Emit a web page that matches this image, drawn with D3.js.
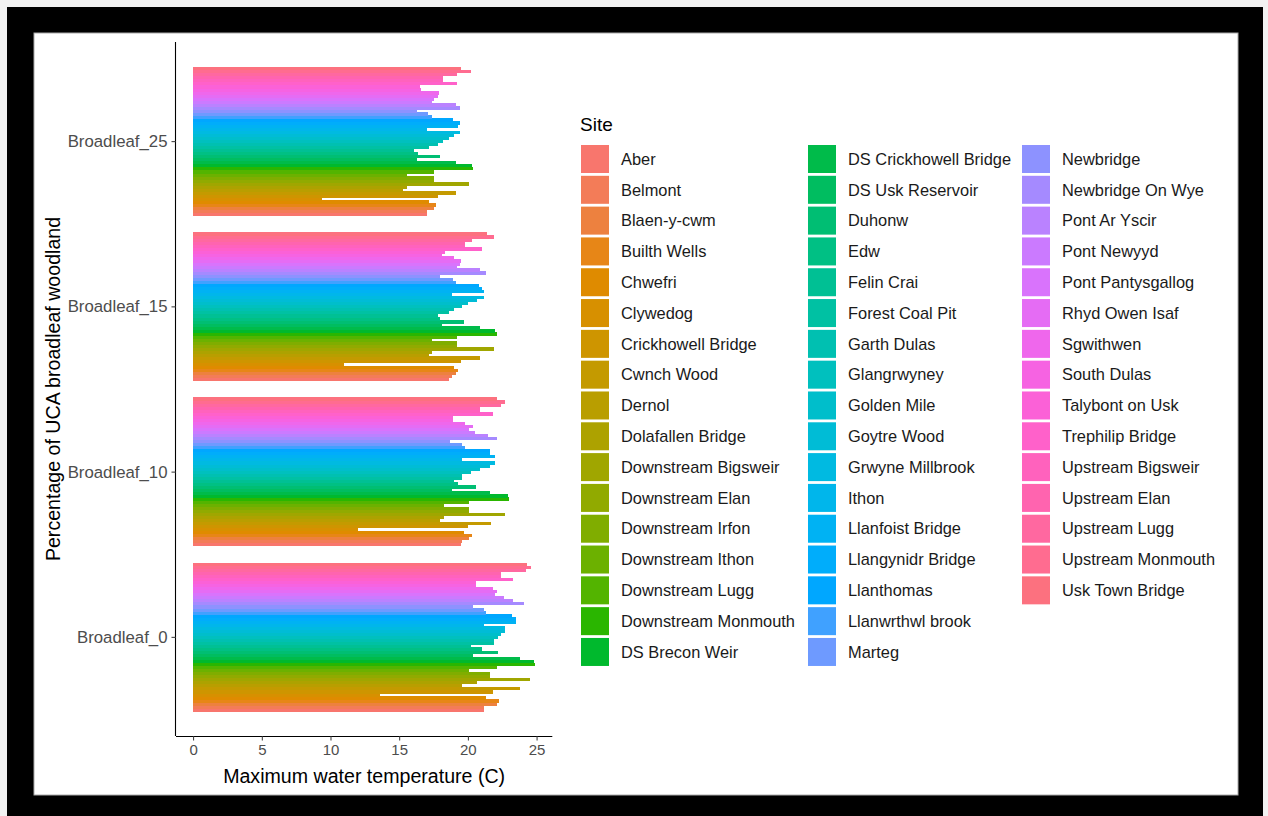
<!DOCTYPE html>
<html>
<head>
<meta charset="utf-8">
<script src="https://cdn.jsdelivr.net/npm/d3@7"></script>
<style>
  html, body { margin: 0; padding: 0; background: #f2f2f2; }
  svg { display: block; font-family: "Liberation Sans", Arial, sans-serif; }
</style>
</head>
<body>
<svg id="chart" width="1268" height="816"></svg>
<script>
// ---------- data ----------
const categories = ["Broadleaf_0", "Broadleaf_10", "Broadleaf_15", "Broadleaf_25"];

const sites = ["Aber","Belmont","Blaen-y-cwm","Builth Wells","Chwefri","Clywedog","Crickhowell Bridge","Cwnch Wood","Dernol","Dolafallen Bridge","Downstream Bigsweir","Downstream Elan","Downstream Irfon","Downstream Ithon","Downstream Lugg","Downstream Monmouth","DS Brecon Weir","DS Crickhowell Bridge","DS Usk Reservoir","Duhonw","Edw","Felin Crai","Forest Coal Pit","Garth Dulas","Glangrwyney","Golden Mile","Goytre Wood","Grwyne Millbrook","Ithon","Llanfoist Bridge","Llangynidr Bridge","Llanthomas","Llanwrthwl brook","Marteg","Newbridge","Newbridge On Wye","Pont Ar Yscir","Pont Newyyd","Pont Pantysgallog","Rhyd Owen Isaf","Sgwithwen","South Dulas","Talybont on Usk","Trephilip Bridge","Upstream Bigsweir","Upstream Elan","Upstream Lugg","Upstream Monmouth","Usk Town Bridge"];

const broadleaf0 = [21.2,21.2,22.1,22.3,21.3,13.6,21.8,23.8,19.6,20.7,24.5,21.6,21.6,20.1,22.1,24.9,24.8,23.8,20.4,22.2,21.0,20.2,21.9,21.9,22.2,22.4,22.7,22.7,21.2,23.5,23.5,23.2,21.35,21.2,20.4,24.1,23.3,22.6,22.0,22.1,21.8,20.6,20.6,23.3,22.4,22.4,24.2,24.6,24.3];
const broadleaf10 = [19.5,19.6,20.1,20.3,19.7,12.0,20.0,21.7,18.0,18.25,22.7,20.1,20.1,18.25,20.1,23.0,22.9,21.6,18.85,20.6,19.3,19.0,19.6,19.6,20.2,20.9,21.6,22.0,19.6,22.0,21.6,21.6,19.8,19.6,18.7,22.1,21.5,20.5,20.1,20.4,19.8,18.9,18.9,21.8,20.9,20.9,22.4,22.7,22.1];
const broadleaf15 = [18.6,18.85,19.1,19.3,19.0,11.0,19.5,20.9,17.15,17.4,21.9,19.2,19.2,17.4,19.2,22.1,22.0,20.9,18.1,19.7,18.0,17.8,18.6,19.0,19.6,20.0,20.7,21.2,18.85,21.2,21.0,20.8,19.1,18.9,18.0,21.3,20.9,19.2,19.4,19.5,19.0,18.1,18.3,21.0,19.8,19.8,20.3,21.9,21.4];
const broadleaf25 = [17.0,17.0,17.5,17.7,17.2,9.4,17.8,19.1,15.3,15.6,20.1,17.5,17.5,15.6,17.5,20.4,20.3,19.1,16.3,18.0,16.4,16.1,17.2,17.8,18.2,18.6,19.0,19.4,17.0,19.3,19.4,18.9,17.4,17.1,16.3,19.4,19.1,17.4,17.5,17.8,17.9,16.6,16.5,19.2,18.2,18.2,19.2,20.2,19.5];

const xTicks = [0, 5, 10, 15, 20, 25];
const xTitle = "Maximum water temperature (C)";
const yTitle = "Percentage of UCA broadleaf woodland";
const legendTitle = "Site";

// ---------- colours: ggplot hue palette (polar LUV) ----------
function hclLuv(h, c, l) {
  const hr = h * Math.PI / 180;
  const U = c * Math.cos(hr), V = c * Math.sin(hr);
  const Xn = 95.047, Yn = 100, Zn = 108.883;
  const un = 4 * Xn / (Xn + 15 * Yn + 3 * Zn), vn = 9 * Yn / (Xn + 15 * Yn + 3 * Zn);
  const Y = Yn * (l > 8 ? Math.pow((l + 16) / 116, 3) : l / 903.3);
  const up = U / (13 * l) + un, vp = V / (13 * l) + vn;
  const X = 9 * Y * up / (4 * vp);
  const Z = Y * (12 - 3 * up - 20 * vp) / (4 * vp);
  const x = X / 100, y = Y / 100, z = Z / 100;
  let r = 3.2404542 * x - 1.5371385 * y - 0.4985314 * z;
  let g = -0.9692660 * x + 1.8760108 * y + 0.0415560 * z;
  let b = 0.0556434 * x - 0.2040259 * y + 1.0572252 * z;
  const gam = v => { v = v <= 0.0031308 ? 12.92 * v : 1.055 * Math.pow(v, 1 / 2.4) - 0.055; return Math.round(255 * Math.max(0, Math.min(1, v))); };
  return d3.rgb(gam(r), gam(g), gam(b)).formatHex();
}
const palette = sites.map((s, i) => hclLuv(15 + 360 * i / sites.length, 100, 65));
const color = d3.scaleOrdinal().domain(sites).range(palette);

// ---------- build rows ----------
const seriesByCat = { "Broadleaf_0": broadleaf0, "Broadleaf_10": broadleaf10, "Broadleaf_15": broadleaf15, "Broadleaf_25": broadleaf25 };
const rows = [];
categories.forEach(cat => sites.forEach((s, i) => rows.push({ cat, site: s, value: seriesByCat[cat][i] })));

// ---------- svg ----------
const svg = d3.select("#chart");
// frame
svg.append("rect").attr("x", 7).attr("y", 7).attr("width", 1256).attr("height", 809).attr("fill", "#000");
svg.append("rect").attr("x", 34).attr("y", 33).attr("width", 1204).attr("height", 762).attr("fill", "#fff").attr("stroke", "#aaa").attr("stroke-width", 1);

const panel = { left: 176, right: 552.3, top: 42, bottom: 736 };

const x = d3.scaleLinear().domain([-1.245, 26.145]).range([panel.left, panel.right]);
const y = d3.scalePoint().domain(categories.slice().reverse()).range([panel.top, panel.bottom]).padding(0.6);
const bandH = y.step() * 0.9;
const inner = d3.scaleBand().domain(sites.slice().reverse()).range([-bandH / 2, bandH / 2]).padding(0);

// bars
svg.append("g").attr("shape-rendering", "crispEdges").selectAll("rect").data(rows).join("rect")
  .attr("x", x(0))
  .attr("y", d => y(d.cat) + inner(d.site))
  .attr("width", d => x(d.value) - x(0))
  .attr("height", inner.bandwidth() + 0.5)
  .attr("fill", d => color(d.site));

// x axis
const xAxis = svg.append("g").attr("transform", `translate(0,${panel.bottom})`)
  .call(d3.axisBottom(x).tickValues(xTicks).tickSize(4.5).tickPadding(4).tickFormat(d3.format("d")));
xAxis.select(".domain").attr("stroke", "#000").attr("stroke-width", 1.1).attr("d", `M${panel.left},0.5H${panel.right}`);
xAxis.selectAll(".tick line").attr("stroke", "#333");
xAxis.selectAll(".tick text").attr("fill", "#4d4d4d").attr("font-size", 15).attr("font-family", "Liberation Sans, Arial, sans-serif");

// y axis
const yAxis = svg.append("g").attr("transform", `translate(${panel.left},0)`)
  .call(d3.axisLeft(y).tickSize(4.5).tickPadding(4));
yAxis.select(".domain").attr("stroke", "#000").attr("stroke-width", 1.1).attr("d", `M-0.5,${panel.top}V${panel.bottom}`);
yAxis.selectAll(".tick line").attr("stroke", "#333");
yAxis.selectAll(".tick text").attr("fill", "#4d4d4d").attr("font-size", 16.8).attr("font-family", "Liberation Sans, Arial, sans-serif");

// axis titles
svg.append("text").attr("x", (x(-1.245) + x(26.145)) / 2).attr("y", 783)
  .attr("text-anchor", "middle").attr("font-size", 19.6).attr("fill", "#000").text(xTitle);
svg.append("text").attr("transform", `translate(60,${(panel.top + panel.bottom) / 2}) rotate(-90)`)
  .attr("text-anchor", "middle").attr("font-size", 19.6).attr("fill", "#000").text(yTitle);

// legend
const lg = svg.append("g");
lg.append("text").attr("x", 580).attr("y", 131).attr("font-size", 19).attr("fill", "#000").text(legendTitle);
const colX = [581, 808, 1022];
const perCol = 17, rowStep = 30.81, firstRow = 159;
sites.forEach((s, i) => {
  const c = Math.floor(i / perCol), r = i % perCol;
  const cy = firstRow + r * rowStep;
  lg.append("rect").attr("x", colX[c]).attr("y", cy - 14).attr("width", 28).attr("height", 28).attr("fill", color(s));
  lg.append("text").attr("x", colX[c] + 40).attr("y", cy).attr("dy", "0.35em")
    .attr("font-size", 16.4).attr("fill", "#1a1a1a").text(s);
});
</script>
</body>
</html>
